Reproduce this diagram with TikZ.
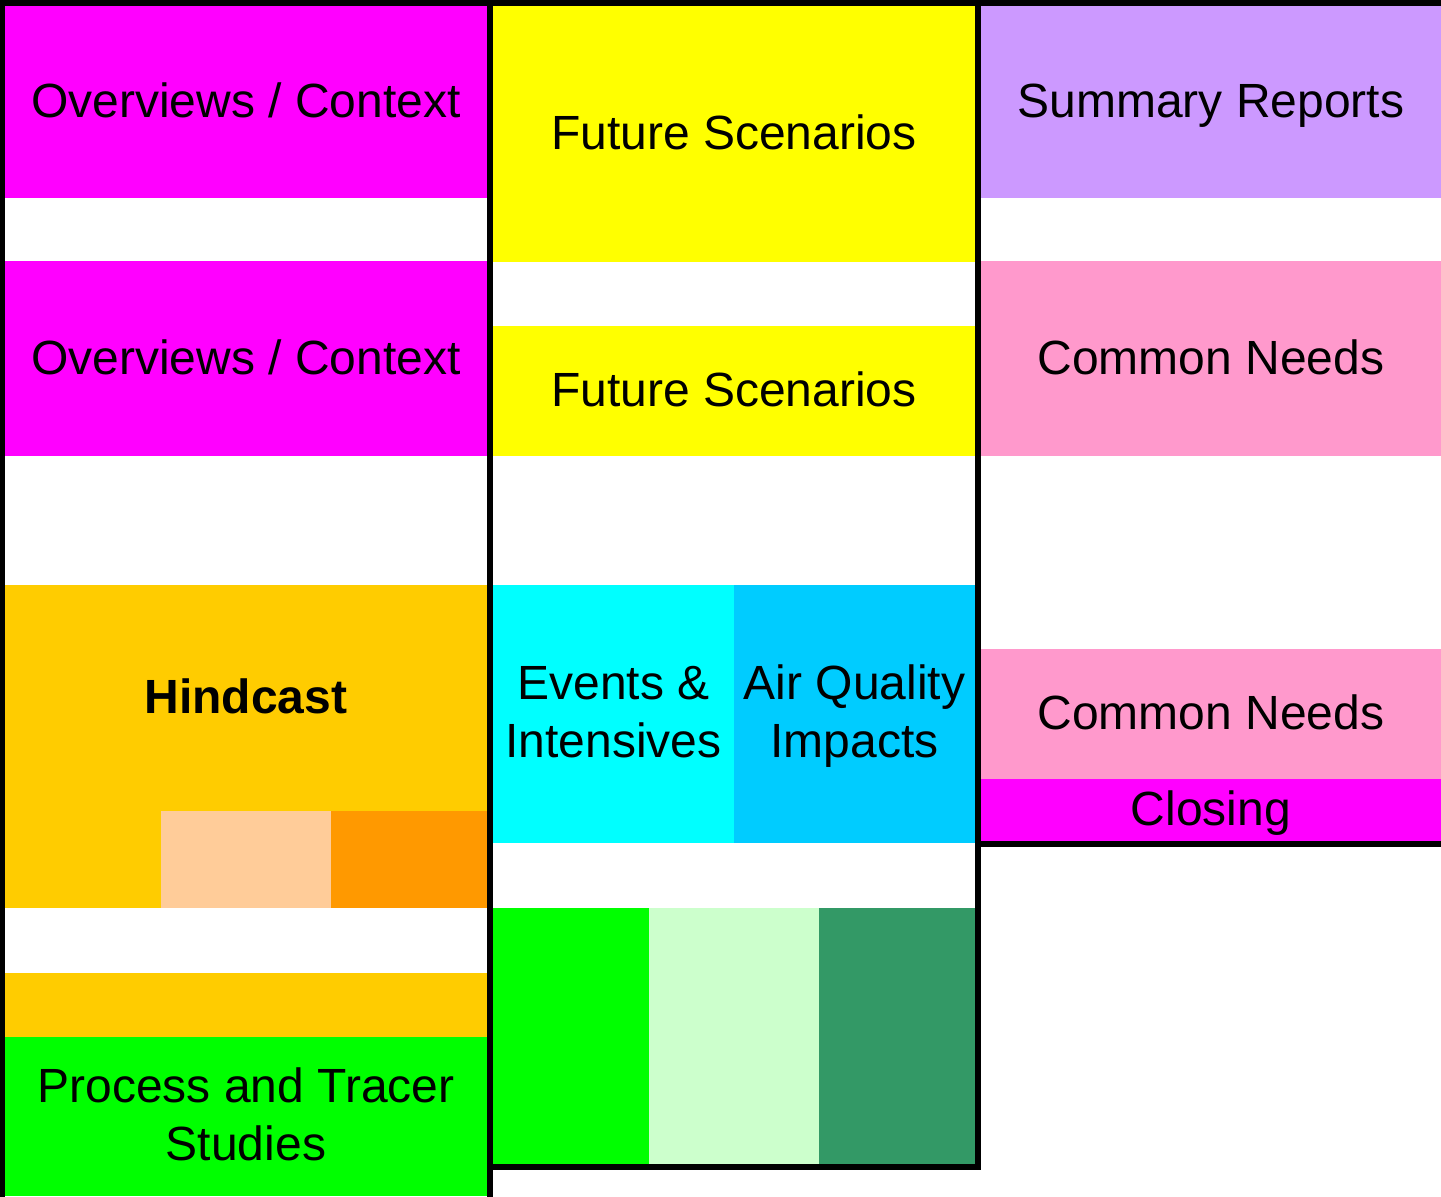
\documentclass[tikz,border=0pt]{standalone}
\usepackage{fontspec}
\setmainfont{Liberation Sans}
\definecolor{pmagenta}{HTML}{FF00FF}
\definecolor{pyellow}{HTML}{FFFF00}
\definecolor{pcyan}{HTML}{00FFFF}
\definecolor{pgreen}{HTML}{00FF00}
\definecolor{lavender}{HTML}{CC99FF}
\definecolor{rose}{HTML}{FF99CC}
\definecolor{amber}{HTML}{FFCC00}
\definecolor{peach}{HTML}{FFCC99}
\definecolor{deeporange}{HTML}{FF9900}
\definecolor{sky}{HTML}{00CCFF}
\definecolor{mint}{HTML}{CCFFCC}
\definecolor{seagreen}{HTML}{339966}
\begin{document}
\begin{tikzpicture}[x=0.5pt,y=-0.5pt,
  cell/.style 2 args={anchor=north west, inner sep=0pt, outer sep=0pt,
    minimum width=#1*0.5pt, minimum height=#2*0.5pt, align=center,
    font=\fontsize{24}{29}\selectfont, text=black},
  oneline/.style={text height=17.5pt, text depth=2pt},
  twoline/.style={text depth=2.5pt},
  frame/.style={draw=black, line width=3pt},
]
\clip (0,0) rectangle (1441,1196);
\fill[white] (0,0) rectangle (1441,1196);

% left column
\node[cell={482}{192}, oneline, fill=pmagenta] (ov1) at (5,6) {Overviews / Context};
\node[cell={482}{195}, oneline, fill=pmagenta] (ov2) at (5,261) {Overviews / Context};
\node[cell={482}{323}, fill=amber] (hind) at (5,585) {};
\node[font=\fontsize{24}{29}\selectfont\bfseries, oneline, inner sep=0pt] (hindtxt) at (246,698) {Hindcast};
\node[cell={170}{97}, fill=peach] (hindA) at (161,811) {};
\node[cell={156}{97}, fill=deeporange] (hindB) at (331,811) {};
\node[cell={482}{64}, fill=amber] (hind2) at (5,973) {};
\node[cell={482}{159}, twoline, fill=pgreen] (proc) at (5,1037) {Process and Tracer\\Studies};

% middle column
\node[cell={482}{256}, oneline, fill=pyellow] (fs1) at (493,6) {Future Scenarios};
\node[cell={482}{130}, oneline, fill=pyellow] (fs2) at (493,326) {Future Scenarios};
\node[cell={241}{258}, twoline, fill=pcyan] (ev) at (493,585) {Events \&\\Intensives};
\node[cell={241}{258}, twoline, fill=sky] (aq) at (734,585) {Air Quality\\Impacts};
\node[cell={156}{256}, fill=pgreen] (gA) at (493,908) {};
\node[cell={170}{256}, fill=mint] (gB) at (649,908) {};
\node[cell={156}{256}, fill=seagreen] (gC) at (819,908) {};

% right column
\node[cell={460}{192}, oneline, fill=lavender] (sum) at (981,6) {Summary Reports};
\node[cell={460}{195}, oneline, fill=rose] (cn1) at (981,261) {Common Needs};
\node[cell={460}{130}, oneline, fill=rose] (cn2) at (981,649) {Common Needs};
\node[cell={460}{62}, oneline, fill=pmagenta] (cl) at (981,779) {Closing};

% column outlines
\draw[frame] (2,3) rectangle (490,1220);
\draw[frame] (490,3) rectangle (978,1167);
\draw[frame] (978,3) rectangle (1460,844);
\end{tikzpicture}
\end{document}
